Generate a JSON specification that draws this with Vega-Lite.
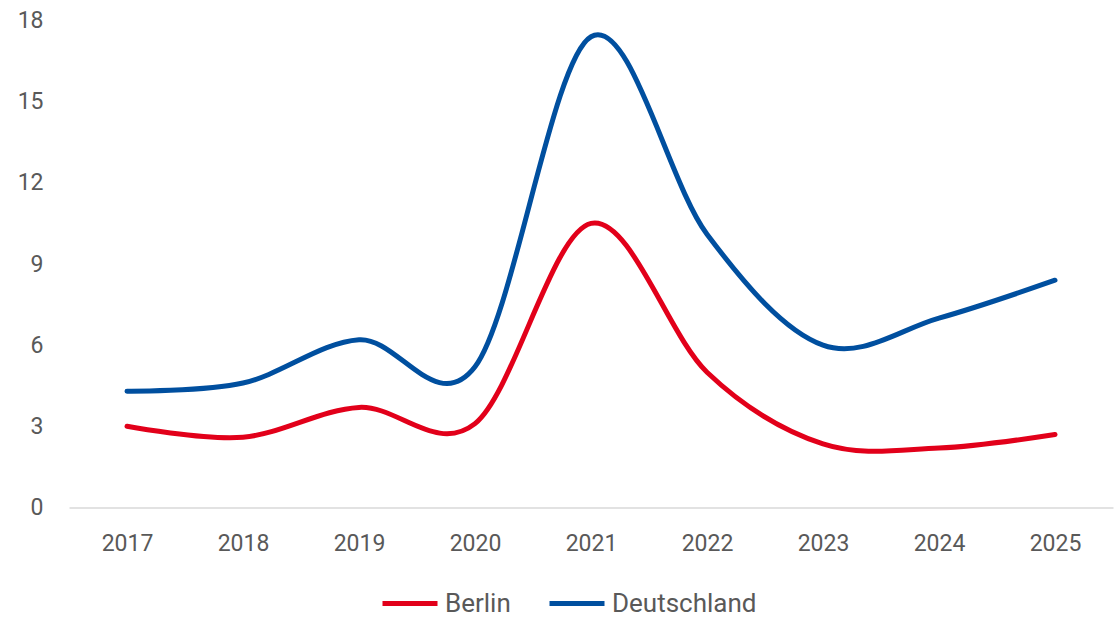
{
  "$schema": "https://vega.github.io/schema/vega-lite/v6.json",
  "width": 1044,
  "height": 487,
  "autosize": {"type": "none"},
  "padding": {"left": 69, "top": 20.5, "right": 6, "bottom": 109.5},
  "background": "white",
  "config": {
    "view": {"stroke": null},
    "font": "Roboto"
  },
  "data": {
    "values": [
      {"year": "2017", "series": "Berlin", "value": 3.0},
      {"year": "2018", "series": "Berlin", "value": 2.6},
      {"year": "2019", "series": "Berlin", "value": 3.7},
      {"year": "2020", "series": "Berlin", "value": 3.1},
      {"year": "2021", "series": "Berlin", "value": 10.5},
      {"year": "2022", "series": "Berlin", "value": 5.0},
      {"year": "2023", "series": "Berlin", "value": 2.35},
      {"year": "2024", "series": "Berlin", "value": 2.2},
      {"year": "2025", "series": "Berlin", "value": 2.7},
      {"year": "2017", "series": "Deutschland", "value": 4.3},
      {"year": "2018", "series": "Deutschland", "value": 4.6},
      {"year": "2019", "series": "Deutschland", "value": 6.2},
      {"year": "2020", "series": "Deutschland", "value": 5.2},
      {"year": "2021", "series": "Deutschland", "value": 17.4},
      {"year": "2022", "series": "Deutschland", "value": 10.1},
      {"year": "2023", "series": "Deutschland", "value": 6.0},
      {"year": "2024", "series": "Deutschland", "value": 7.0},
      {"year": "2025", "series": "Deutschland", "value": 8.4}
    ]
  },
  "mark": {"type": "line", "interpolate": "cardinal", "strokeWidth": 5, "strokeCap": "round", "strokeJoin": "round"},
  "encoding": {
    "x": {
      "field": "year",
      "type": "ordinal",
      "scale": {"type": "point", "padding": 0.5},
      "axis": {
        "title": null,
        "labelAngle": 0,
        "labelFont": "Roboto",
        "labelFontSize": 23,
        "labelColor": "#595959",
        "labelPadding": 25,
        "ticks": false,
        "domainColor": "#d9d9d9",
        "domainWidth": 1.5,
        "grid": false
      }
    },
    "y": {
      "field": "value",
      "type": "quantitative",
      "scale": {"domain": [0, 18], "nice": false},
      "axis": {
        "title": null,
        "values": [0, 3, 6, 9, 12, 15, 18],
        "labelFont": "Roboto",
        "labelFontSize": 23,
        "labelColor": "#595959",
        "labelPadding": 26,
        "ticks": false,
        "domain": false,
        "grid": false
      }
    },
    "color": {
      "field": "series",
      "type": "nominal",
      "scale": {"domain": ["Berlin", "Deutschland"], "range": ["#E2001A", "#004F9F"]},
      "legend": {
        "title": null,
        "orient": "none",
        "direction": "horizontal",
        "legendX": 311,
        "legendY": 553,
        "symbolType": "stroke",
        "symbolStrokeWidth": 5,
        "symbolSize": 3025,
        "labelFont": "Roboto",
        "labelFontSize": 26,
        "labelColor": "#595959",
        "labelOffset": 5,
        "labelBaseline": "middle",
        "columnPadding": 28
      }
    }
  }
}
